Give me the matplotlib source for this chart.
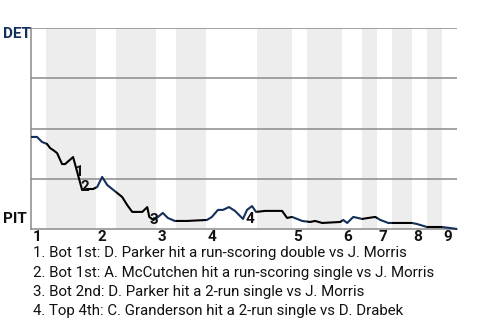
import matplotlib
matplotlib.use("Agg")
import matplotlib.pyplot as plt
from matplotlib.patches import Rectangle

plt.rcParams['font.family'] = ['Roboto', 'DejaVu Sans']

# Half-inning boundaries, in plate-appearance units
half_bounds = [0, 3, 13, 17, 25, 29, 35, 45, 52, 55, 62, 66, 69, 72, 76, 79, 82, 85]
inning_labels = ["1", "2", "3", "4", "5", "6", "7", "8", "9"]

# Win probability for DET (0 = PIT wins, 1 = DET wins)
pa = [0, 1.2, 2.2, 3.2, 3.8, 4.4, 5.2, 6.2, 6.8, 8.4, 10.2, 11.2, 12.4, 13.2, 14.2,
      15.2, 16.2, 17.2, 18.2, 19.2, 20.2, 22.2, 23.2, 23.6, 24.4, 25.1, 26.3, 27.3,
      28.7, 31.1, 35.1, 36.1, 37.3, 38.3, 39.5, 40.7, 42.3, 43.1, 44.1, 44.9, 46.7,
      50.1, 51.1, 52.1, 54.1, 55.7, 56.7, 58.1, 61.7, 62.3, 63.1, 64.3, 66.1, 67.3,
      68.7, 69.7, 71.3, 73.1, 76.0, 77.0, 79.0, 82.0, 83.6, 85.0]
det_wp = [0.458, 0.458, 0.433, 0.423, 0.403, 0.393, 0.378, 0.323, 0.323, 0.358, 0.194,
          0.199, 0.199, 0.209, 0.259, 0.219, 0.199, 0.179, 0.159, 0.119, 0.085, 0.085,
          0.109, 0.060, 0.045, 0.055, 0.080, 0.055, 0.040, 0.040, 0.045, 0.060, 0.095,
          0.095, 0.109, 0.090, 0.050, 0.095, 0.114, 0.085, 0.090, 0.090, 0.055, 0.060,
          0.040, 0.035, 0.040, 0.030, 0.035, 0.045, 0.030, 0.060, 0.050, 0.055, 0.060,
          0.045, 0.030, 0.030, 0.030, 0.025, 0.010, 0.010, 0.005, 0.0]

events_num = ["1", "2", "3", "4"]
events_x = [9.6, 10.8, 24.5, 43.7]
events_y = [0.284, 0.209, 0.045, 0.050]
events_text = [
    "1. Bot 1st: D. Parker hit a run-scoring double vs J. Morris",
    "2. Bot 1st: A. McCutchen hit a run-scoring single vs J. Morris",
    "3. Bot 2nd: D. Parker hit a 2-run single vs J. Morris",
    "4. Top 4th: C. Granderson hit a 2-run single vs D. Drabek",
]

NAVY = '#13305a'
GRID = '#8a8a8a'
SHADE = '#ededed'

fig = plt.figure(figsize=(4.8, 3.2), dpi=100)
ax = fig.add_axes([31/480, 1 - 229/320, (457-31)/480, (229-28)/320])
ax.set_xlim(half_bounds[0], half_bounds[-1])
ax.set_ylim(0, 1)

# shaded bottom halves
for i in range(1, len(half_bounds) - 1, 2):
    ax.axvspan(half_bounds[i], half_bounds[i+1], color=SHADE, lw=0, zorder=0)

for yv in [0.25, 0.5, 0.75, 1.0]:
    ax.axhline(yv, color=GRID, lw=1.1, zorder=1)

# line colored by half inning
for i in range(len(half_bounds) - 1):
    color = NAVY if i % 2 == 0 else 'black'
    ln, = ax.plot(pa, det_wp, color=color, lw=1.5, zorder=3, solid_joinstyle='round')
    rect = Rectangle((half_bounds[i], -1), half_bounds[i+1] - half_bounds[i], 3,
                     transform=ax.transData)
    ln.set_clip_path(rect)

for n, x, y in zip(events_num, events_x, events_y):
    ax.text(x, y, n, fontsize=11, fontweight='bold', color='#111111',
            ha='center', va='center', zorder=4)

for s in ['top', 'right']:
    ax.spines[s].set_visible(False)
for s in ['left', 'bottom']:
    ax.spines[s].set_color(GRID)
    ax.spines[s].set_linewidth(1.1)
ax.set_xticks([])
ax.set_yticks([])

# inning labels
for k, lab in enumerate(inning_labels):
    xs = half_bounds[2 * k]
    ax.text(xs + 0.3, -0.04, lab, fontsize=11, fontweight='bold', color='#111111',
            ha='left', va='center', transform=ax.transData, clip_on=False)

fig.text(3/480, 1 - 34/320, "DET", fontsize=11, fontweight='bold', color=NAVY,
         ha='left', va='center')
fig.text(3/480, 1 - 219/320, "PIT", fontsize=11, fontweight='bold', color='#111111',
         ha='left', va='center')

for j, t in enumerate(events_text):
    fig.text(33/480, 1 - (253 + j * 19.5)/320, t, fontsize=10.8, color='#111111',
             ha='left', va='center')

fig.savefig("out.png", dpi=100)
